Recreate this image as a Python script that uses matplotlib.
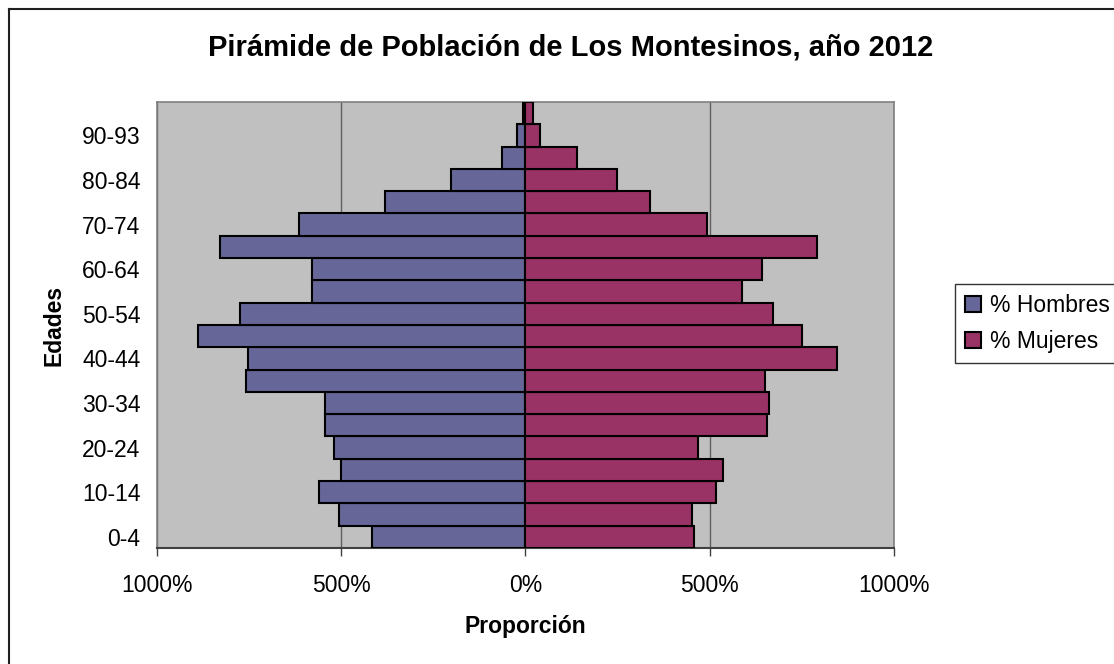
import numpy as np
import matplotlib
matplotlib.use("Agg")
import matplotlib.pyplot as plt
from matplotlib.lines import Line2D

plt.rcParams['font.family'] = ['Liberation Sans', 'DejaVu Sans']

# Age groups, bottom to top
edades = ['0-4', '5-9', '10-14', '15-19', '20-24', '25-29', '30-34', '35-39',
          '40-44', '45-49', '50-54', '55-59', '60-64', '65-69', '70-74',
          '75-79', '80-84', '85-89', '90-93', '94+']

# Values as shown on the axis (%)
hombres = [417, 505, 560, 500, 520, 545, 545, 759, 754, 888,
           774, 580, 580, 830, 615, 382, 203, 63, 24, 7]
mujeres = [458, 452, 517, 537, 468, 656, 661, 651, 845, 750,
           671, 587, 641, 790, 492, 339, 248, 140, 40, 20]

col_h = '#666699'
col_m = '#993366'
fs = 16.5

fig = plt.figure(figsize=(11.14, 6.64), dpi=100)
ax = fig.add_axes([0.1409, 0.1747, 0.6616, 0.6717])

y = np.arange(len(edades))
ax.barh(y, -np.array(hombres), height=1.0, color=col_h, edgecolor='black',
        linewidth=1.5, label='% Hombres', zorder=3)
ax.barh(y, mujeres, height=1.0, color=col_m, edgecolor='black',
        linewidth=1.5, label='% Mujeres', zorder=3)

ax.set_facecolor('#C0C0C0')
ax.set_xlim(-1000, 1000)
ax.set_ylim(-0.5, len(edades) - 0.5)

ax.set_xticks([-1000, -500, 0, 500, 1000])
ax.set_xticklabels([f'{abs(v)}%' for v in [-1000, -500, 0, 500, 1000]], fontsize=fs)
ax.tick_params(axis='x', direction='out', length=6, width=1, color='#404040', pad=13)

ax.set_yticks(y[::2])
ax.set_yticklabels(edades[::2], fontsize=fs)
ax.tick_params(axis='y', which='major', length=0, pad=12)

# vertical gridlines
ax.grid(axis='x', color='#606060', linewidth=1, zorder=1)
ax.set_axisbelow(True)

for s in ['top', 'right', 'left']:
    ax.spines[s].set_color('#808080')
    ax.spines[s].set_linewidth(1.2)
ax.spines['bottom'].set_color('#404040')
ax.spines['bottom'].set_linewidth(1.5)

ax.set_xlabel('Proporción', fontsize=fs, fontweight='bold', labelpad=13)
ax.set_ylabel('Edades', fontsize=fs, fontweight='bold', labelpad=12)

fig.text(0.512, 0.928, 'Pirámide de Población de Los Montesinos, año 2012',
         ha='center', va='center', fontsize=21, fontweight='bold')

leg = ax.legend(loc='center left', bbox_to_anchor=(0.857, 0.513),
                bbox_transform=fig.transFigure, fontsize=fs, frameon=True,
                fancybox=False, edgecolor='black', handlelength=0.7,
                handleheight=0.7, handletextpad=0.4, borderpad=0.45,
                labelspacing=0.55, borderaxespad=0)
leg.get_frame().set_linewidth(1)

# outer chart border (only left and top edges are inside the picture)
fig.add_artist(Line2D([0.0077, 0.0077], [0.0, 0.987], transform=fig.transFigure,
                      color='#202020', linewidth=1.5))
fig.add_artist(Line2D([0.0077, 1.0], [0.987, 0.987], transform=fig.transFigure,
                      color='#202020', linewidth=1.5))

fig.savefig('out.png', dpi=100)
